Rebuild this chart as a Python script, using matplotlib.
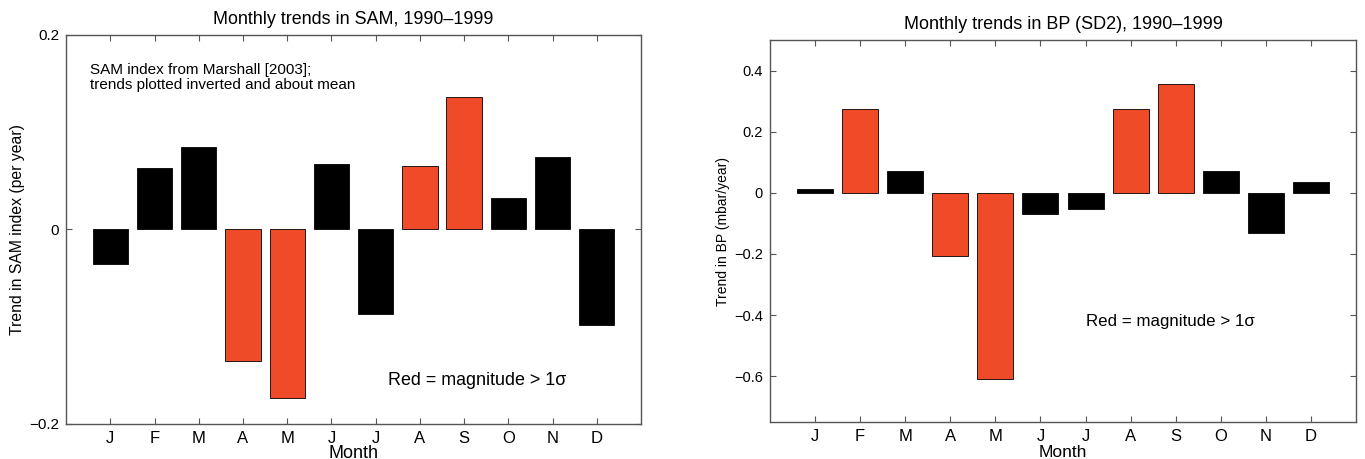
import matplotlib
matplotlib.use("Agg")
import matplotlib.pyplot as plt
import numpy as np

plt.rcParams['font.family'] = ['Liberation Sans', 'DejaVu Sans']

months = ['J', 'F', 'M', 'A', 'M', 'J', 'J', 'A', 'S', 'O', 'N', 'D']
sam_trend = [-0.035, 0.0635, 0.085, -0.1355, -0.173, 0.067, -0.0865, 0.0655, 0.136, 0.032, 0.075, -0.098]
sam_sig = [False, False, False, True, True, False, False, True, True, False, False, False]
bp_trend = [0.014, 0.275, 0.073, -0.206, -0.609, -0.068, -0.053, 0.275, 0.355, 0.073, -0.130, 0.034]
bp_sig = [False, True, False, True, True, False, False, True, True, False, False, False]

RED = '#F04B28'
SPINE = '#555555'

fig = plt.figure(figsize=(13.65, 4.59), dpi=100)
ax1 = fig.add_axes([0.0484, 0.0763, 0.4212, 0.8475])
ax2 = fig.add_axes([0.5641, 0.0806, 0.4293, 0.8322])

x = np.arange(1, 13)

def style(ax, yfs, xfs):
    for s in ax.spines.values():
        s.set_color(SPINE)
        s.set_linewidth(1.0)
    ax.tick_params(direction='in', top=True, right=True, length=4, width=0.8,
                   color=SPINE, pad=5)
    ax.tick_params(axis='y', labelsize=yfs)
    ax.tick_params(axis='x', labelsize=xfs)
    ax.set_xlim(0, 13)
    ax.set_xticks(x)
    ax.set_xticklabels(months)

# Left panel
cols1 = [RED if s else 'black' for s in sam_sig]
ax1.bar(x, sam_trend, width=0.8, color=cols1, edgecolor='black', linewidth=0.6)
style(ax1, 11, 12)
ax1.set_ylim(-0.2, 0.2)
ax1.set_yticks([-0.2, 0, 0.2])
ax1.set_yticklabels(['\u22120.2', '0', '0.2'])
ax1.set_title('Monthly trends in SAM, 1990\u20131999', fontsize=12.9, pad=8)
ax1.set_ylabel('Trend in SAM index (per year)', fontsize=11.3, labelpad=3)
ax1.set_xlabel('Month', fontsize=13, labelpad=-1)
ax1.text(0.54, 0.1565, 'SAM index from Marshall [2003];\ntrends plotted inverted and about mean',
         fontsize=11, va='center', ha='left', linespacing=1.05)
ax1.text(7.28, -0.155, 'Red = magnitude > 1\u03c3', fontsize=12.9, va='center', ha='left')

# Right panel
cols2 = [RED if s else 'black' for s in bp_sig]
ax2.bar(x, bp_trend, width=0.8, color=cols2, edgecolor='black', linewidth=0.6)
style(ax2, 10.5, 12)
ax2.set_ylim(-0.75, 0.5)
ax2.set_yticks([-0.6, -0.4, -0.2, 0, 0.2, 0.4])
ax2.set_yticklabels(['\u22120.6', '\u22120.4', '\u22120.2', '0', '0.2', '0.4'])
ax2.set_title('Monthly trends in BP (SD2), 1990\u20131999', fontsize=13, pad=8)
ax2.set_ylabel('Trend in BP (mbar/year)', fontsize=10, labelpad=3)
ax2.set_xlabel('Month', fontsize=12.5, labelpad=1)
ax2.text(7.0, -0.422, 'Red = magnitude > 1\u03c3', fontsize=12.2, va='center', ha='left')

fig.savefig('out.png', dpi=100)
